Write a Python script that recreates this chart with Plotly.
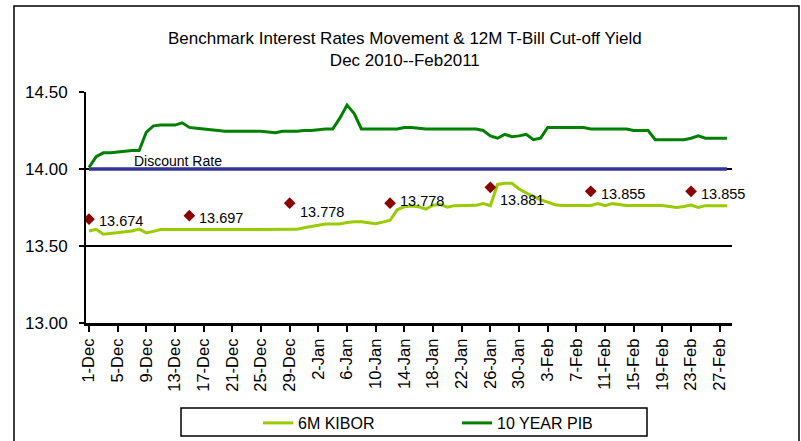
import pandas as pd
import plotly.graph_objects as go

# ---------------- data ----------------
dates = pd.date_range("2010-12-01", "2011-02-28", freq="D")

kibor_6m = [
    13.597, 13.608, 13.577, 13.583, 13.588, 13.592, 13.597, 13.610, 13.585, 13.595,
    13.607, 13.607, 13.607, 13.607, 13.607, 13.607, 13.607, 13.607, 13.607, 13.607,
    13.607, 13.607, 13.607, 13.607, 13.607, 13.607, 13.607, 13.607, 13.607, 13.608,
    13.619, 13.627, 13.635, 13.643, 13.643, 13.643, 13.652, 13.658, 13.658, 13.652,
    13.645, 13.655, 13.667, 13.735, 13.755, 13.760, 13.755, 13.740, 13.765, 13.770,
    13.752, 13.762, 13.762, 13.762, 13.764, 13.775, 13.762, 13.900, 13.907, 13.907,
    13.870, 13.845, 13.822, 13.800, 13.785, 13.768, 13.763, 13.763, 13.763, 13.763,
    13.763, 13.776, 13.762, 13.775, 13.770, 13.763, 13.763, 13.763, 13.763, 13.763,
    13.763, 13.757, 13.750, 13.757, 13.766, 13.750, 13.762, 13.762, 13.762, 13.762,
]

pib_10y = [
    14.010, 14.080, 14.105, 14.105, 14.110, 14.115, 14.120, 14.120, 14.240, 14.280,
    14.285, 14.285, 14.285, 14.300, 14.270, 14.265, 14.260, 14.255, 14.250, 14.245,
    14.245, 14.245, 14.245, 14.245, 14.245, 14.240, 14.235, 14.245, 14.245, 14.245,
    14.250, 14.250, 14.255, 14.260, 14.260, 14.330, 14.415, 14.360, 14.260, 14.260,
    14.260, 14.260, 14.260, 14.260, 14.270, 14.270, 14.265, 14.260, 14.260, 14.260,
    14.260, 14.260, 14.260, 14.260, 14.260, 14.250, 14.215, 14.200, 14.225, 14.210,
    14.215, 14.225, 14.190, 14.200, 14.270, 14.270, 14.270, 14.270, 14.270, 14.270,
    14.260, 14.260, 14.260, 14.260, 14.260, 14.260, 14.250, 14.250, 14.250, 14.190,
    14.190, 14.190, 14.190, 14.190, 14.200, 14.215, 14.200, 14.200, 14.200, 14.200,
]

discount_rate = 14.00

tbill_dates = ["2010-12-01", "2010-12-15", "2010-12-29", "2011-01-12",
               "2011-01-26", "2011-02-09", "2011-02-23"]
tbill_yield = [13.674, 13.697, 13.778, 13.778, 13.881, 13.855, 13.855]
tbill_label_dy = [-2, -2, -9, 2, -13, -3, -3]   # label vertical nudges (px)

y_ticks = [13.00, 13.50, 14.00, 14.50]

FONT = "Liberation Sans"
LIGHT_GREEN = "#99CC00"
DARK_GREEN = "#008000"
BLUE = "#333399"
MARKER_RED = "#8B0000"

W, H = 801, 441
L, R, T, B = 86, 69, 92, 118
PW, PH = W - L - R, H - T - B

# ---------------- figure ----------------
fig = go.Figure()

fig.add_trace(go.Scatter(
    x=[dates[0], dates[-1]], y=[discount_rate, discount_rate], mode="lines",
    line=dict(color=BLUE, width=3.5), showlegend=False, hoverinfo="skip"))

fig.add_trace(go.Scatter(
    x=dates, y=kibor_6m, mode="lines", name="6M KIBOR",
    line=dict(color=LIGHT_GREEN, width=3)))

fig.add_trace(go.Scatter(
    x=dates, y=pib_10y, mode="lines", name="10 YEAR PIB",
    line=dict(color=DARK_GREEN, width=3)))

fig.add_trace(go.Scatter(
    x=tbill_dates, y=tbill_yield, mode="markers", showlegend=False,
    marker=dict(symbol="diamond", size=9, color=MARKER_RED)))

annotations = []
for d, v, dy in zip(tbill_dates, tbill_yield, tbill_label_dy):
    annotations.append(dict(
        x=d, y=v, xref="x", yref="y", text=f"{v:.3f}", showarrow=False,
        xanchor="left", yanchor="middle", xshift=8, yshift=dy,
        font=dict(family=FONT, size=14.5, color="black")))

annotations.append(dict(
    x="2010-12-07 00:00", y=discount_rate, xref="x", yref="y",
    text="Discount Rate", showarrow=False, xanchor="left", yanchor="bottom",
    yshift=-2, font=dict(family=FONT, size=14, color="black")))

# chart title as a container-anchored annotation
annotations.append(dict(
    x=0.506, xref="paper", xanchor="center",
    y=(H - B - 27) / PH, yref="paper", yanchor="top",
    text="Benchmark Interest Rates Movement & 12M T-Bill Cut-off Yield<br>Dec 2010--Feb2011",
    showarrow=False, font=dict(family=FONT, size=17, color="black")))
annotations[-1]["x"] = (405 - L) / PW

fig.update_layout(
    width=W, height=H,
    margin=dict(l=L, r=R, t=T, b=B, autoexpand=False),
    paper_bgcolor="white", plot_bgcolor="white",
    font=dict(family=FONT, color="black"),
    annotations=annotations,
    showlegend=True,
    legend=dict(
        orientation="h", x=258 / W, xref="container", xanchor="left",
        y=1 - 406 / H, yref="container", yanchor="top",
        entrywidth=154, entrywidthmode="pixels",
        font=dict(family=FONT, size=16, color="black"),
        bgcolor="rgba(0,0,0,0)", borderwidth=0),
    shapes=[
        dict(type="rect", xref="paper", yref="paper",
             x0=(181 - L) / PW, x1=(647 - L) / PW,
             y0=(H - B - 436) / PH, y1=(H - B - 408) / PH,
             line=dict(color="black", width=1.5)),
        dict(type="rect", xref="paper", yref="paper",
             x0=(14 - L) / PW, x1=(799 - L) / PW,
             y0=-0.7, y1=(H - B - 6) / PH,
             line=dict(color="black", width=1.5)),
    ],
)

fig.update_xaxes(
    type="date",
    range=["2010-11-30 14:00", "2011-02-28 17:00"],
    tick0="2010-12-01", dtick=4 * 86400000, tickformat="%-d-%b",
    tickangle=-90, ticks="outside", ticklen=6, tickwidth=2, tickcolor="black",
    showline=True, linecolor="black", linewidth=3, showgrid=False,
    zeroline=False, tickfont=dict(family=FONT, size=16.5, color="black"))

fig.update_yaxes(
    range=[13.0, 14.5], tickvals=y_ticks, tickformat=".2f",
    ticks="outside", ticklen=5, tickwidth=1.5, tickcolor="black",
    showline=True, linecolor="black", linewidth=2,
    showgrid=True, gridcolor="black", gridwidth=1.5, zeroline=False,
    ticklabelstandoff=8,
    tickfont=dict(family=FONT, size=17, color="black"))

fig.write_html(
    "out.html",
    config={"displayModeBar": False},
    post_script="document.body.style.margin='0';document.body.style.overflow='hidden';",
)
